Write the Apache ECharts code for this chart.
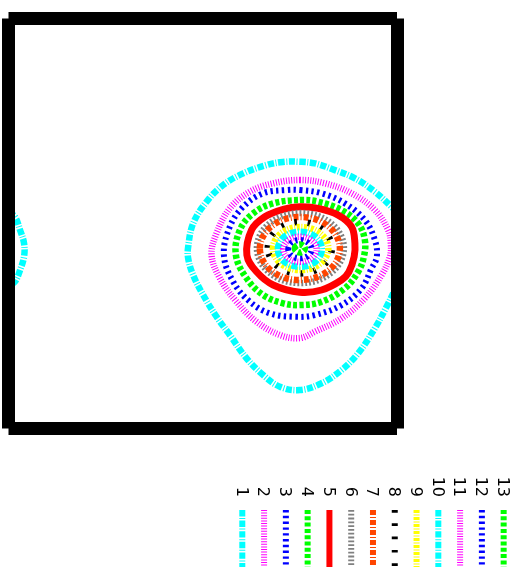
<!DOCTYPE html>
<html>
<head>
<meta charset="utf-8">
<script src="https://cdn.jsdelivr.net/npm/echarts@6/dist/echarts.min.js"></script>
<style>
  html, body { margin: 0; padding: 0; background: #fff; }
  #chart { width: 517px; height: 567px; }
</style>
</head>
<body>
<div id="chart"></div>
<script>
// Contour level labels
const levelLabels = ['1', '2', '3', '4', '5', '6', '7', '8', '9', '10', '11', '12', '13'];

// Contour paths, [x, y] in axis units (x: -180..180, y: -180..180)
// Level 1 wraps across the periodic x boundary: main arc + the piece on the left edge
const level1Main = [[180, 10.3], [176.5, 13.3], [159.5, 27.9], [141.0, 39.7], [122.4, 46.9], [103.9, 52.8], [90, 54.2], [74.2, 54.0], [59.1, 51.3], [37.5, 44.0], [18.9, 33.8], [3.5, 19.1], [-8.9, 0.1], [-13.5, -20.4], [-13.5, -30.6], [-8.9, -45.3], [0.4, -62.8], [12.8, -81.9], [25.1, -97.9], [40.6, -118.4], [56.0, -133.1], [71.5, -143.3], [90, -146.2], [110.1, -140.3], [128.6, -128.7], [144.0, -114.0], [159.5, -92.0], [170.3, -73.1], [178.0, -58.4], [180, -54.9]];
const level1Wrap = [[-180, 10.3], [-174.0, 5.9], [-169.3, -5.7], [-165.6, -17.4], [-165.6, -29.2], [-169.3, -40.9], [-174.0, -51.1], [-180, -54.9]];
const level2 = [[90, 38.2], [113.2, 35.3], [137.9, 26.5], [159.5, 11.8], [171.8, -5.7], [174.3, -17.2], [173.4, -29.4], [165.7, -45.3], [150.2, -65.7], [128.6, -83.3], [103.9, -95.0], [90, -100.6], [71.5, -97.9], [49.9, -86.3], [31.3, -68.7], [15.9, -48.1], [8.2, -27.7], [12.8, -8.6], [25.1, 13.3], [43.7, 27.9], [65.3, 35.3]];
const level3 = [[90, 29.4], [110.1, 26.5], [131.7, 17.7], [150.2, 3.0], [159.5, -14.5], [161.3, -29.4], [156.4, -39.4], [147.2, -56.9], [128.6, -71.6], [103.9, -80.4], [85.4, -81.9], [62.2, -78.9], [43.7, -68.7], [28.2, -51.1], [19.6, -27.7], [25.1, -2.8], [37.5, 14.7], [56.0, 26.5], [77.7, 29.4]];
const level4 = [[90, 20.6], [107.0, 19.1], [128.6, 11.8], [144.0, 0.1], [150.2, -14.5], [149.3, -29.2], [144.0, -42.4], [131.7, -56.9], [110.1, -68.7], [90, -71.6], [74.5, -70.1], [56.0, -62.8], [40.6, -48.1], [30.7, -27.7], [34.4, -5.7], [46.7, 8.9], [65.3, 17.7]];
const level5 = [[90, 14.7], [107.0, 13.3], [125.5, 7.4], [137.9, -2.8], [141.0, -17.4], [140.3, -29.2], [135.4, -42.6], [128.6, -49.6], [110.1, -58.4], [90, -60.4], [65.3, -54.0], [49.9, -42.4], [40.9, -27.7], [45.2, -5.7], [57.6, 5.9], [74.5, 12.4]];
const level6 = [[50.2, -21.5], [61.9, 0.1], [90.5, 9.2], [119.0, 0.1], [130.8, -21.5], [119.0, -43.2], [90.5, -52.3], [61.9, -43.2]];
const level7 = [[52.9, -22.0], [63.8, -2.4], [90, 5.7], [116.2, -2.4], [127.1, -22.0], [116.2, -41.6], [90, -49.6], [63.8, -41.6]];
const level8 = [[60.3, -21.4], [69.1, -5.4], [90, 1.3], [110.9, -5.4], [119.7, -21.4], [110.9, -37.3], [90, -43.9], [69.1, -37.3]];
const level9 = [[65.0, -22.0], [72.5, -8.6], [90.7, -3.1], [108.9, -8.6], [116.4, -22.0], [108.9, -35.3], [90.7, -40.9], [72.5, -35.3]];
const level10 = [[69.6, -22.6], [75.5, -11.7], [90, -7.2], [104.5, -11.7], [110.4, -22.6], [104.5, -33.5], [90, -38.0], [75.5, -33.5]];
const level11 = [[74.5, -22.6], [79.1, -14.9], [90, -11.6], [100.9, -14.9], [105.5, -22.6], [100.9, -30.3], [90, -33.6], [79.1, -30.3]];
const level12 = [[79.2, -22.6], [82.3, -16.9], [90, -14.5], [97.7, -16.9], [100.8, -22.6], [97.7, -28.3], [90, -30.6], [82.3, -28.3]];
const level13 = [[85.4, -22.0], [86.8, -19.5], [90, -18.5], [93.2, -19.5], [94.6, -22.0], [93.2, -24.4], [90, -25.5], [86.8, -24.4]];

// Line styles, cycling through nine colours / dash patterns
const styleColors = ['#00ffff', '#ff00ff', '#0000ff', '#00ff00', '#ff0000', '#808080', '#ff4500', '#000000', '#ffff00'];
const styleDashes = [[6.4, 1.6, 1, 1.6], [1, 1.6], [2.4, 3.4], [4, 2.3], null, [1.8, 2], [5, 2, 1, 2], [2.7, 10.6], [3, 1.5, 1, 1.5]];
const styleWidths = [6.5, 6.5, 6, 6.5, 7, 6.5, 6.5, 6.5, 6.5];

const paths = [
  { level: 0, pts: level1Main, closed: false },
  { level: 0, pts: level1Wrap, closed: false },
  { level: 1, pts: level2, closed: true },
  { level: 2, pts: level3, closed: true },
  { level: 3, pts: level4, closed: true },
  { level: 4, pts: level5, closed: true },
  { level: 5, pts: level6, closed: true },
  { level: 6, pts: level7, closed: true },
  { level: 7, pts: level8, closed: true },
  { level: 8, pts: level9, closed: true },
  { level: 9, pts: level10, closed: true },
  { level: 10, pts: level11, closed: true },
  { level: 11, pts: level12, closed: true },
  { level: 12, pts: level13, closed: true }
];

function lineLook(level) {
  const k = level % styleColors.length;
  return { color: styleColors[k], dash: styleDashes[k], width: styleWidths[k] };
}

const series = paths.map(function (p) {
  const look = lineLook(p.level);
  return {
    type: 'custom',
    coordinateSystem: 'cartesian2d',
    clip: true,
    silent: true,
    data: p.pts,
    renderItem: function (params, api) {
      if (params.dataIndex !== 0) return null;
      const pts = p.pts.map(function (d) { return api.coord(d); });
      return {
        type: p.closed ? 'polygon' : 'polyline',
        shape: { points: pts, smooth: 0.38 },
        style: {
          fill: 'none',
          stroke: look.color,
          lineWidth: look.width,
          lineDash: look.dash,
          lineCap: 'butt',
          lineJoin: 'round'
        }
      };
    }
  };
});

// Frame: each side is a heavy axis line with square ends
function frameAxis(position) {
  return {
    type: 'value', min: -180, max: 180, position: position, z: 10,
    axisLine: { show: true, onZero: false, lineStyle: { color: '#000', width: 13, cap: 'butt' } },
    axisTick: { show: false }, axisLabel: { show: false }, splitLine: { show: false }
  };
}

// Legend: vertical line samples with labels turned a quarter clockwise
const legendX0 = 242.3, legendStep = 21.78;
const legendGraphics = [];
levelLabels.forEach(function (lab, i) {
  const look = lineLook(i);
  const x = legendX0 + i * legendStep;
  legendGraphics.push({
    type: 'line', silent: true,
    shape: { x1: x, y1: 510, x2: x, y2: 580 },
    style: { stroke: look.color, lineWidth: 6, lineDash: look.dash, lineCap: 'butt' }
  });
  legendGraphics.push({
    type: 'text', silent: true,
    x: x - 1.5, y: 497, rotation: -Math.PI / 2,
    style: { text: lab, font: '16px "DejaVu Sans"', fill: '#000', align: 'right', verticalAlign: 'middle' }
  });
});

const chart = echarts.init(document.getElementById('chart'), null, { renderer: 'canvas' });
chart.setOption({
  animation: false,
  backgroundColor: '#ffffff',
  grid: { left: 8.5, top: 18.5, width: 388.5, height: 410, containLabel: false },
  xAxis: [frameAxis('bottom'), frameAxis('top')],
  yAxis: [frameAxis('left'), frameAxis('right')],
  series: series,
  graphic: legendGraphics
});
</script>
</body>
</html>
